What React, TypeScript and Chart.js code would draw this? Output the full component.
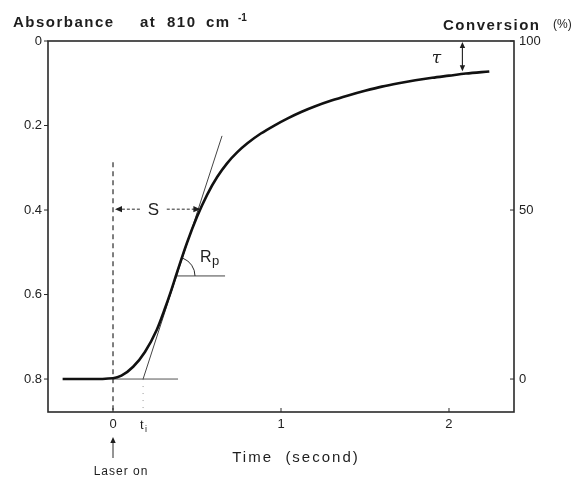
import React, { useEffect, useRef } from "react";
import { Chart, registerables } from "chart.js";

Chart.register(...registerables);

// Absorbance curve (time in s, absorbance at 810 cm-1)
const curveTime = [-0.30, -0.15, 0.00, 0.05, 0.12, 0.19, 0.26, 0.31, 0.34, 0.38, 0.44, 0.50, 0.56, 0.62, 0.68, 0.74, 0.80, 0.88, 0.96, 1.04, 1.12, 1.20, 1.30, 1.40, 1.50, 1.60, 1.70, 1.80, 1.90, 2.00, 2.10, 2.24];
const curveAbs = [0.800, 0.800, 0.798, 0.792, 0.771, 0.736, 0.684, 0.632, 0.598, 0.549, 0.478, 0.416, 0.364, 0.322, 0.289, 0.263, 0.242, 0.219, 0.200, 0.183, 0.168, 0.155, 0.141, 0.129, 0.118, 0.108, 0.100, 0.093, 0.087, 0.082, 0.077, 0.072];

// Construction lines
const tangentTime = [0.179, 0.649];
const tangentAbs = [0.8, 0.2245];
const baselineTime = [0.0, 0.387];
const baselineAbs = [0.8, 0.8];
const rpLineTime = [0.369, 0.667];
const rpLineAbs = [0.556, 0.556];
const laserTime = [0, 0];
const laserAbs = [0.287, 0.878];
const tiTime = [0.179, 0.179];
const tiAbs = [0.8, 0.878];

// Axes
const xMin = -0.387;
const xMax = 2.387;
const absMin = 0;
const absMax = 0.878;
const xTicks = [0, 1, 2];
const absTicks = [0, 0.2, 0.4, 0.6, 0.8];
const absTickLabels = ["0", "0.2", "0.4", "0.6", "0.8"];
const convTicks = [0, 50, 100];
const convMin = (1 - absMax / 0.8) * 100;
const convMax = 100;

// Annotation anchors (data coords)
const sArrowAbs = 0.398;
const sLeftTime = [0.0, 0.16];
const sRightTime = [0.32, 0.52];
const rpCenter = { t: 0.375, a: 0.556 };
const tauTime = 2.08;
const tauAbs = [0, 0.074];

const pts = (xs: number[], ys: number[]) => xs.map((x, i) => ({ x, y: ys[i] }));

function arrowHead(ctx: CanvasRenderingContext2D, x: number, y: number, dx: number, dy: number, size = 6) {
  const len = Math.hypot(dx, dy);
  const ux = dx / len;
  const uy = dy / len;
  ctx.beginPath();
  ctx.moveTo(x, y);
  ctx.lineTo(x - ux * size - uy * size * 0.45, y - uy * size + ux * size * 0.45);
  ctx.lineTo(x - ux * size + uy * size * 0.45, y - uy * size - ux * size * 0.45);
  ctx.closePath();
  ctx.fill();
}

const annotations = {
  id: "annotations",
  afterDatasetsDraw(chart: any) {
    const { ctx, chartArea } = chart;
    const xs = chart.scales.x;
    const ys = chart.scales.y;
    const ys2 = chart.scales.y2;
    const px = (t: number) => xs.getPixelForValue(t);
    const py = (a: number) => ys.getPixelForValue(a);
    ctx.save();
    ctx.strokeStyle = "#2a2a2a";
    ctx.fillStyle = "#1e1e1e";

    // frame
    ctx.lineWidth = 1.6;
    ctx.strokeRect(chartArea.left, chartArea.top, chartArea.right - chartArea.left, chartArea.bottom - chartArea.top);

    // ticks
    ctx.lineWidth = 1;
    absTicks.forEach((v) => {
      const y = py(v);
      ctx.beginPath();
      ctx.moveTo(chartArea.left - 4, y);
      ctx.lineTo(chartArea.left, y);
      ctx.stroke();
    });
    convTicks.forEach((v) => {
      const y = ys2.getPixelForValue(v);
      ctx.beginPath();
      ctx.moveTo(chartArea.right - 4, y);
      ctx.lineTo(chartArea.right, y);
      ctx.stroke();
    });
    xTicks.forEach((v) => {
      const x = px(v);
      ctx.beginPath();
      ctx.moveTo(x, chartArea.bottom);
      ctx.lineTo(x, chartArea.bottom - 4);
      ctx.stroke();
    });

    // S arrows
    const sy = py(sArrowAbs);
    ctx.lineWidth = 1;
    ctx.setLineDash([3, 2]);
    ctx.beginPath();
    ctx.moveTo(px(sLeftTime[1]), sy);
    ctx.lineTo(px(sLeftTime[0]) + 4, sy);
    ctx.moveTo(px(sRightTime[0]), sy);
    ctx.lineTo(px(sRightTime[1]) - 4, sy);
    ctx.stroke();
    ctx.setLineDash([]);
    arrowHead(ctx, px(sLeftTime[0]) + 2, sy, -1, 0, 7);
    arrowHead(ctx, px(sRightTime[1]), sy, 1, 0, 7);
    ctx.font = "17px 'Liberation Sans', Arial, sans-serif";
    ctx.textAlign = "center";
    ctx.textBaseline = "middle";
    ctx.fillText("S", (px(sLeftTime[1]) + px(sRightTime[0])) / 2, sy + 1);

    // Rp angle arc
    const cx = px(rpCenter.t);
    const cy = py(rpCenter.a);
    ctx.lineWidth = 1;
    ctx.beginPath();
    ctx.arc(cx, cy, 19, (-69 * Math.PI) / 180, 0);
    ctx.stroke();
    ctx.textAlign = "left";
    ctx.textBaseline = "alphabetic";
    ctx.font = "16px 'Liberation Sans', Arial, sans-serif";
    ctx.fillText("R", cx + 24, cy - 14);
    ctx.font = "13px 'Liberation Sans', Arial, sans-serif";
    ctx.fillText("p", cx + 36, cy - 11);

    // tau double arrow
    const tx = px(tauTime);
    const tTop = py(tauAbs[0]);
    const tBot = py(tauAbs[1]);
    ctx.lineWidth = 1.2;
    ctx.beginPath();
    ctx.moveTo(tx, tTop + 5);
    ctx.lineTo(tx, tBot - 5);
    ctx.stroke();
    arrowHead(ctx, tx, tTop + 1, 0, -1, 6);
    arrowHead(ctx, tx, tBot - 1, 0, 1, 6);
    ctx.font = "italic 17px 'DejaVu Serif', serif";
    ctx.textAlign = "center";
    ctx.fillText("\u03C4", tx - 26, (tTop + tBot) / 2 + 6);

    // t_i label
    const tiX = px(tiTime[0]);
    ctx.font = "13px 'Liberation Sans', Arial, sans-serif";
    ctx.textAlign = "left";
    ctx.fillText("t", tiX - 3, chartArea.bottom + 17);
    ctx.font = "9px 'Liberation Sans', Arial, sans-serif";
    ctx.fillText("i", tiX + 2, chartArea.bottom + 20);

    // Laser on arrow
    const lx = px(0);
    ctx.lineWidth = 1;
    ctx.beginPath();
    ctx.moveTo(lx, chartArea.bottom + 46);
    ctx.lineTo(lx, chartArea.bottom + 30);
    ctx.stroke();
    arrowHead(ctx, lx, chartArea.bottom + 25, 0, -1, 6);
    ctx.font = "12px 'Liberation Sans', Arial, sans-serif";
    (ctx as any).letterSpacing = "1px";
    ctx.textAlign = "center";
    ctx.fillText("Laser on", lx + 8, chartArea.bottom + 63);

    // Axis titles
    (ctx as any).letterSpacing = "2px";
    ctx.font = "15px 'Liberation Sans', Arial, sans-serif";
    ctx.fillText("Time  (second)", 296, chartArea.bottom + 50);

    ctx.textAlign = "left";
    (ctx as any).letterSpacing = "1.5px";
    ctx.font = "bold 15px 'Liberation Sans', Arial, sans-serif";
    ctx.fillText("Absorbance", 13, 27);
    ctx.fillText("at", 140, 27);
    ctx.fillText("810", 167, 27);
    ctx.fillText("cm", 206, 27);
    (ctx as any).letterSpacing = "0px";
    ctx.font = "bold 10px 'Liberation Sans', Arial, sans-serif";
    ctx.fillText("-1", 238, 21);

    (ctx as any).letterSpacing = "1.5px";
    ctx.font = "bold 15px 'Liberation Sans', Arial, sans-serif";
    ctx.fillText("Conversion", 443, 30);
    (ctx as any).letterSpacing = "0px";
    ctx.font = "12px 'Liberation Sans', Arial, sans-serif";
    ctx.fillText("(%)", 553, 28);

    ctx.restore();
  },
};

export default function App() {
  const ref = useRef<HTMLCanvasElement>(null);
  useEffect(() => {
    if (!ref.current) return;
    const tickFont = { family: "'Liberation Sans', Arial, sans-serif", size: 13 };
    const chart = new Chart(ref.current, {
      type: "scatter",
      data: {
        datasets: [
          { data: pts(curveTime, curveAbs), showLine: true, borderColor: "#111", borderWidth: 2.6, pointRadius: 0, cubicInterpolationMode: "monotone", yAxisID: "y" },
          { data: pts(tangentTime, tangentAbs), showLine: true, borderColor: "#444", borderWidth: 1, pointRadius: 0, yAxisID: "y" },
          { data: pts(baselineTime, baselineAbs), showLine: true, borderColor: "#555", borderWidth: 1, pointRadius: 0, yAxisID: "y" },
          { data: pts(rpLineTime, rpLineAbs), showLine: true, borderColor: "#444", borderWidth: 1, pointRadius: 0, yAxisID: "y" },
          { data: pts(laserTime, laserAbs), showLine: true, borderColor: "#555", borderWidth: 1.5, borderDash: [5, 4], pointRadius: 0, yAxisID: "y" },
          { data: pts(tiTime, tiAbs), showLine: true, borderColor: "#999", borderWidth: 1, borderDash: [1, 6], pointRadius: 0, yAxisID: "y" },
        ] as any,
      },
      options: {
        animation: false,
        responsive: false,
        maintainAspectRatio: false,
        layout: { padding: { top: 41, left: 0, right: 0, bottom: 0 } },
        plugins: { legend: { display: false }, tooltip: { enabled: false }, title: { display: false } },
        scales: {
          x: {
            type: "linear",
            position: "bottom",
            min: xMin,
            max: xMax,
            grid: { display: false, drawTicks: false },
            border: { display: false },
            ticks: { font: tickFont, color: "#222", padding: 5, maxRotation: 0 },
            afterBuildTicks: (s: any) => { s.ticks = xTicks.map((v) => ({ value: v })); },
            afterFit: (s: any) => { s.height = 72; },
          },
          y: {
            type: "linear",
            position: "left",
            reverse: true,
            min: absMin,
            max: absMax,
            grid: { display: false, drawTicks: false },
            border: { display: false },
            ticks: {
              font: tickFont,
              color: "#222",
              padding: 6,
              callback: (v: any) => { const i = absTicks.indexOf(Number(v)); return i >= 0 ? absTickLabels[i] : ""; },
            },
            afterBuildTicks: (s: any) => { s.ticks = absTicks.map((v) => ({ value: v })); },
            afterFit: (s: any) => { s.width = 48; },
          },
          y2: {
            type: "linear",
            position: "right",
            min: convMin,
            max: convMax,
            grid: { display: false, drawTicks: false },
            border: { display: false },
            ticks: { font: tickFont, color: "#222", padding: 5 },
            afterBuildTicks: (s: any) => { s.ticks = convTicks.map((v) => ({ value: v })); },
            afterFit: (s: any) => { s.width = 71; },
          },
        },
      },
      plugins: [annotations],
    });
    return () => chart.destroy();
  }, []);
  return (
    <div style={{ position: "absolute", left: 0, top: 0, width: 585, height: 484, background: "#fff" }}>
      <canvas ref={ref} width={585} height={484} style={{ width: 585, height: 484 }} />
    </div>
  );
}
